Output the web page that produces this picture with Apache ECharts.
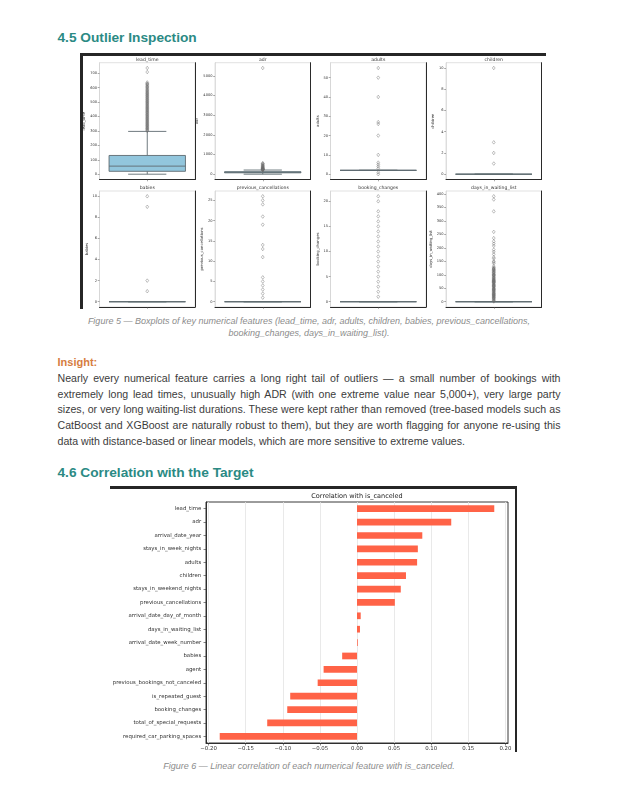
<!DOCTYPE html>
<html><head><meta charset="utf-8">
<script src="https://cdn.jsdelivr.net/npm/echarts@6/dist/echarts.min.js"></script>
<style>
html,body{margin:0;padding:0;background:#fff;}
body{width:628px;height:786px;position:relative;overflow:hidden;font-family:"Liberation Sans",Arial,sans-serif;}
.h{position:absolute;left:57.5px;font-weight:bold;color:#2b8a84;font-size:13.7px;line-height:16px;white-space:nowrap;}
.cap{position:absolute;left:57.5px;width:503px;text-align:center;font-style:italic;color:#8c8c8c;font-size:9px;line-height:12.6px;white-space:nowrap;}
.ins{position:absolute;left:57.5px;top:355.7px;font-weight:bold;color:#d67d3e;font-size:11px;line-height:13px;}
.para{position:absolute;left:57.5px;top:370.7px;width:503px;color:#3c3c3c;font-size:10.6px;line-height:15.85px;}
.para div{white-space:nowrap;}
.para .j{text-align:justify;text-align-last:justify;white-space:normal;}
.bar{position:absolute;background:#262626;}
#c{position:absolute;left:0;top:0;width:628px;height:786px;}
</style></head>
<body>
<div class="h" style="top:29.5px">4.5 Outlier Inspection</div>
<div class="bar" style="left:80px;top:53px;width:466px;height:2.7px"></div>
<div class="bar" style="left:80px;top:53px;width:2.5px;height:256px"></div>
<div class="cap" style="top:314.6px">Figure 5 — Boxplots of key numerical features (lead_time, adr, adults, children, babies, previous_cancellations,<br>booking_changes, days_in_waiting_list).</div>
<div class="ins">Insight:</div>
<div class="para">
<div class="j">Nearly every numerical feature carries a long right tail of outliers — a small number of bookings with</div>
<div class="j">extremely long lead times, unusually high ADR (with one extreme value near 5,000+), very large party</div>
<div class="j">sizes, or very long waiting-list durations. These were kept rather than removed (tree-based models such as</div>
<div class="j">CatBoost and XGBoost are naturally robust to them), but they are worth flagging for anyone re-using this</div>
<div>data with distance-based or linear models, which are more sensitive to extreme values.</div>
</div>
<div class="h" style="top:464.9px">4.6 Correlation with the Target</div>
<div class="bar" style="left:110px;top:486px;width:407px;height:2.7px"></div>
<div class="bar" style="left:514.5px;top:486px;width:2.5px;height:266px"></div>
<div class="cap" style="top:759.6px">Figure 6 — Linear correlation of each numerical feature with is_canceled.</div>
<div id="c"></div>
<script>
// ---------- Boxplot data (Figure 5) ----------
// stats: [lower whisker, Q1, median, Q3, upper whisker]
const leadTimeStats = [0, 20, 56, 130, 297];
const leadTimeOutliers = [300, 305, 309, 314, 318, 322, 327, 331, 336, 340, 344, 349, 353, 358, 362, 367, 371, 376, 380, 385, 389, 394, 398, 403, 407, 412, 416, 421, 426, 430, 435, 439, 444, 448, 453, 457, 462, 466, 471, 475, 480, 485, 489, 494, 498, 503, 507, 512, 517, 521, 526, 531, 535, 540, 545, 549, 554, 559, 563, 568, 573, 578, 583, 588, 594, 600, 605, 609, 615, 622, 626, 629, 637, 709, 737];
const leadTimeTicks = [0, 100, 200, 300, 400, 500, 600, 700];

const adrStats = [0, 70, 95, 126, 211];
const adrOutliers = [212, 218, 225, 232, 240, 248, 256, 265, 275, 286, 298, 310, 325, 340, 360, 380, 400, 425, 450, 475, 510, 540, 560, 5400];
const adrTicks = [0, 1000, 2000, 3000, 4000, 5000];

const adultsStats = [2, 2, 2, 2, 2];
const adultsOutliers = [0, 1, 3, 4, 5, 6, 10, 20, 26, 27, 40, 50, 55];
const adultsTicks = [0, 10, 20, 30, 40, 50];

const childrenStats = [0, 0, 0, 0, 0];
const childrenOutliers = [1, 2, 3, 10];
const childrenTicks = [0, 2, 4, 6, 8, 10];

const babiesStats = [0, 0, 0, 0, 0];
const babiesOutliers = [1, 2, 9, 10];
const babiesTicks = [0, 2, 4, 6, 8, 10];

const prevCancStats = [0, 0, 0, 0, 0];
const prevCancOutliers = [1, 2, 3, 4, 5, 6, 11, 13, 14, 19, 21, 24, 25, 26];
const prevCancTicks = [0, 5, 10, 15, 20, 25];

const bookingChangesStats = [0, 0, 0, 0, 0];
const bookingChangesOutliers = [1, 2, 3, 4, 5, 6, 7, 8, 9, 10, 11, 12, 13, 14, 15, 16, 17, 18, 20, 21];
const bookingChangesTicks = [0, 5, 10, 15, 20];

const waitingStats = [0, 0, 0, 0, 0];
const waitingOutliers = [1, 3, 5, 8, 10, 12, 14, 15, 17, 19, 21, 22, 24, 25, 27, 28, 30, 31, 33, 35, 38, 39, 41, 43, 44, 46, 47, 48, 50, 52, 55, 56, 58, 59, 60, 62, 63, 65, 68, 70, 71, 72, 74, 75, 76, 77, 79, 80, 81, 83, 85, 87, 89, 91, 93, 96, 98, 99, 100, 101, 105, 107, 108, 111, 113, 116, 117, 120, 121, 122, 125, 127, 132, 142, 147, 150, 160, 165, 176, 185, 193, 207, 215, 224, 236, 259, 335, 379, 391];
const waitingTicks = [0, 50, 100, 150, 200, 250, 300, 350, 400];

const boxNames = ['lead_time', 'adr', 'adults', 'children', 'babies', 'previous_cancellations', 'booking_changes', 'days_in_waiting_list'];

// ---------- Bar data (Figure 6) ----------
const corrFeatures = ['lead_time', 'adr', 'arrival_date_year', 'stays_in_week_nights', 'adults', 'children', 'stays_in_weekend_nights', 'previous_cancellations', 'arrival_date_day_of_month', 'days_in_waiting_list', 'arrival_date_week_number', 'babies', 'agent', 'previous_bookings_not_canceled', 'is_repeated_guest', 'booking_changes', 'total_of_special_requests', 'required_car_parking_spaces'];
const corrValues = [0.185, 0.127, 0.088, 0.082, 0.081, 0.066, 0.059, 0.051, 0.005, 0.004, 0.001, -0.020, -0.045, -0.053, -0.090, -0.094, -0.121, -0.185];
const corrTicks = [-0.20, -0.15, -0.10, -0.05, 0.00, 0.05, 0.10, 0.15, 0.20];

// ---------- Build ----------
const panels = [
  {stats: leadTimeStats, out: leadTimeOutliers, ticks: leadTimeTicks, gap: 9},
  {stats: adrStats, out: adrOutliers, ticks: adrTicks, gap: 11},
  {stats: adultsStats, out: adultsOutliers, ticks: adultsTicks, gap: 7},
  {stats: childrenStats, out: childrenOutliers, ticks: childrenTicks, gap: 7},
  {stats: babiesStats, out: babiesOutliers, ticks: babiesTicks, gap: 7},
  {stats: prevCancStats, out: prevCancOutliers, ticks: prevCancTicks, gap: 7},
  {stats: bookingChangesStats, out: bookingChangesOutliers, ticks: bookingChangesTicks, gap: 7},
  {stats: waitingStats, out: waitingOutliers, ticks: waitingTicks, gap: 9}
];
const colLeft = [99.5, 215, 330.5, 446];
const colW = 95.5;
const rowTop = [62.7, 191];
const rowH = [116.8, 116];
const BOX_FILL = '#92c6dd';
const LINE = '#5f6b70';
const FONT = 'DejaVu Sans';

const grid = [], xAxis = [], yAxis = [], series = [], graphic = [];

panels.forEach(function (p, i) {
  const r = Math.floor(i / 4), c = i % 4;
  const all = p.stats.concat(p.out);
  const lo = Math.min.apply(null, all), hi = Math.max.apply(null, all);
  const pad = (hi - lo) * 0.05;
  grid.push({left: colLeft[c], top: rowTop[r], width: colW, height: rowH[r], show: true,
    borderColor: '#d4d4d4', borderWidth: 0.7, backgroundColor: '#fff', outerBoundsMode: 'none', containLabel: false});
  xAxis.push({type: 'category', gridIndex: i, data: [''], boundaryGap: true,
    axisLine: {show: true, onZero: false, lineStyle: {color: '#2a2a2a', width: 1}},
    axisTick: {show: true, alignWithLabel: true, length: 1.8, lineStyle: {color: '#555', width: 0.5}},
    axisLabel: {show: false}, splitLine: {show: false}});
  yAxis.push({type: 'value', gridIndex: i, min: lo - pad, max: hi + pad, position: 'left',
    name: boxNames[i], nameLocation: 'middle', nameGap: p.gap + 3, nameRotate: 90,
    nameTextStyle: {fontSize: 3.8, color: '#333', fontFamily: FONT},
    axisLine: {show: true, onZero: false, lineStyle: {color: '#d4d4d4', width: 0.7}},
    axisTick: {show: true, length: 1.8, customValues: p.ticks, lineStyle: {color: '#555', width: 0.5}},
    axisLabel: {show: true, customValues: p.ticks, fontSize: 3.6, color: '#333', margin: 2.5, fontFamily: FONT,
      formatter: function (v) { return String(Math.round(v)); }},
    splitLine: {show: false}});
  yAxis.push({type: 'value', gridIndex: i, min: lo - pad, max: hi + pad, position: 'right',
    axisLine: {show: true, onZero: false, lineStyle: {color: '#2a2a2a', width: 1}},
    axisTick: {show: false}, axisLabel: {show: false}, splitLine: {show: false}});
  series.push({type: 'custom', xAxisIndex: i, yAxisIndex: 2 * i, z: 2,
    data: [[0].concat(p.stats)], encode: {x: 0, y: [1, 2, 3, 4, 5]},
    renderItem: function (params, api) {
      const band = api.size([1, 0])[0];
      const cx = api.coord([0, api.value(3)])[0];
      const yv = function (k) { return api.coord([0, api.value(k)])[1]; };
      const yLo = yv(1), yQ1 = yv(2), yMed = yv(3), yQ3 = yv(4), yHi = yv(5);
      const hw = band * 0.4, cw = band * 0.2;
      const ls = {stroke: LINE, lineWidth: 0.9};
      return {type: 'group', children: [
        {type: 'line', shape: {x1: cx, y1: yQ1, x2: cx, y2: yLo}, style: ls},
        {type: 'line', shape: {x1: cx, y1: yQ3, x2: cx, y2: yHi}, style: ls},
        {type: 'line', shape: {x1: cx - cw, y1: yLo, x2: cx + cw, y2: yLo}, style: ls},
        {type: 'line', shape: {x1: cx - cw, y1: yHi, x2: cx + cw, y2: yHi}, style: ls},
        {type: 'rect', shape: {x: cx - hw, y: yQ3, width: 2 * hw, height: Math.max(yQ1 - yQ3, 0)}, style: {fill: BOX_FILL, stroke: LINE, lineWidth: 0.9}},
        {type: 'line', shape: {x1: cx - hw, y1: yMed, x2: cx + hw, y2: yMed}, style: ls}
      ]};
    }});
  series.push({type: 'scatter', xAxisIndex: i, yAxisIndex: 2 * i, z: 3,
    data: p.out.map(function (v) { return [0, v]; }),
    symbol: 'diamond', symbolSize: [2.8, 3.6],
    itemStyle: {color: 'rgba(255,255,255,0)', borderColor: '#6b6b6b', borderWidth: 0.55},
    emphasis: {disabled: true}, silent: true});
  graphic.push({type: 'text', x: colLeft[c] + colW / 2, y: rowTop[r] - 3.4,
    style: {text: boxNames[i], align: 'center', verticalAlign: 'middle', fontSize: 4.6, fill: '#333', fontFamily: FONT}});
});

// Bar chart grid
const bi = panels.length;
grid.push({left: 206, top: 502, width: 302, height: 241, show: true, borderColor: '#222', borderWidth: 0.9,
  outerBoundsMode: 'none', containLabel: false});
xAxis.push({type: 'value', gridIndex: bi, min: -0.2035, max: 0.2035,
  axisLine: {show: true, onZero: false, lineStyle: {color: '#222', width: 0.9}},
  axisTick: {show: true, length: 2.5, customValues: corrTicks, lineStyle: {color: '#333', width: 0.6}},
  axisLabel: {show: true, customValues: corrTicks, fontSize: 5.4, color: '#333', margin: 3, fontFamily: FONT,
    formatter: function (v) { return v.toFixed(2).replace('-', '\u2212'); }},
  splitLine: {show: true, lineStyle: {color: '#e3e3e3', width: 0.8}}});
yAxis.push({type: 'category', gridIndex: bi, data: corrFeatures, inverse: true,
  axisLine: {show: true, onZero: false, lineStyle: {color: '#222', width: 0.9}},
  axisTick: {show: true, alignWithLabel: true, length: 2.5, lineStyle: {color: '#333', width: 0.6}},
  axisLabel: {show: true, fontSize: 5.4, color: '#333', margin: 4.8, fontFamily: FONT},
  splitLine: {show: false}});
series.push({type: 'bar', xAxisIndex: bi, yAxisIndex: yAxis.length - 1, data: corrValues,
  barWidth: '50%', itemStyle: {color: '#ff6347'}, silent: true});
graphic.push({type: 'text', x: 357, y: 496.5,
  style: {text: 'Correlation with is_canceled', align: 'center', verticalAlign: 'middle', fontSize: 6.5, fill: '#222', fontFamily: FONT}});

const chart = echarts.init(document.getElementById('c'), null, {renderer: 'canvas', width: 628, height: 786});
chart.setOption({animation: false, backgroundColor: 'transparent', grid: grid, xAxis: xAxis, yAxis: yAxis, series: series, graphic: graphic});
</script>
</body></html>
